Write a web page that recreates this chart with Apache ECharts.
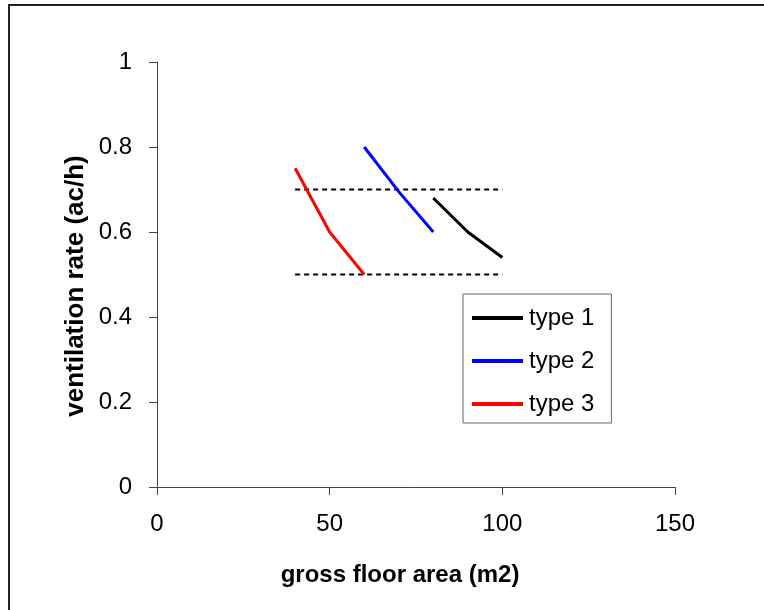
<!DOCTYPE html>
<html>
<head>
<meta charset="utf-8">
<script src="https://cdn.jsdelivr.net/npm/echarts@6/dist/echarts.min.js"></script>
<style>html,body{margin:0;padding:0;background:#fff}#c{width:764px;height:610px}</style>
</head>
<body>
<div id="c"></div>
<script>
var seriesNames = ['type 1', 'type 2', 'type 3'];
var type1X = [80, 90, 100];
var type1Y = [0.68, 0.60, 0.54];
var type2X = [60, 70, 80];
var type2Y = [0.80, 0.695, 0.60];
var type3X = [40, 50, 60];
var type3Y = [0.75, 0.60, 0.50];
var refLineX = [40, 100];
var refUpperY = [0.70, 0.70];
var refLowerY = [0.50, 0.50];
var xTicks = [0, 50, 100, 150];
var yTicks = [0, 0.2, 0.4, 0.6, 0.8, 1];
var xTitle = 'gross floor area (m2)';
var yTitle = 'ventilation rate (ac/h)';

function pairs(xs, ys) { return xs.map(function (x, i) { return [x, ys[i]]; }); }

var colors = ['#000000', '#0000ff', '#ff0000'];
var font = 'Arial, "Liberation Sans", sans-serif';
var chart = echarts.init(document.getElementById('c'), null, { renderer: 'canvas' });

var dataSets = [pairs(type1X, type1Y), pairs(type2X, type2Y), pairs(type3X, type3Y)];
var series = seriesNames.map(function (n, i) {
  return {
    name: n, type: 'line', data: dataSets[i], symbol: 'none', smooth: false,
    lineStyle: { color: colors[i], width: 3 }, itemStyle: { color: colors[i] }, z: 3
  };
});
[refUpperY, refLowerY].forEach(function (ys) {
  series.push({
    type: 'line', data: pairs(refLineX, ys), symbol: 'none', silent: true,
    lineStyle: { color: '#000', width: 2, type: [5, 4] }, z: 2
  });
});

chart.setOption({
  animation: false,
  backgroundColor: '#fff',
  grid: { left: 157, top: 62, right: 89, bottom: 123, containLabel: false },
  xAxis: {
    type: 'value', min: 0, max: 150, interval: 50,
    axisLine: { show: true, lineStyle: { color: '#444', width: 1 } },
    axisTick: { show: true, length: 8, lineStyle: { color: '#444' } },
    splitLine: { show: false },
    axisLabel: { color: '#000', fontSize: 24, fontFamily: font, margin: 25,
      customValues: xTicks, formatter: function (v) { return String(v); } }
  },
  yAxis: {
    type: 'value', min: 0, max: 1, interval: 0.2,
    axisLine: { show: true, lineStyle: { color: '#444', width: 1 } },
    axisTick: { show: true, length: 8, lineStyle: { color: '#444' } },
    splitLine: { show: false },
    axisLabel: { color: '#000', fontSize: 24, fontFamily: font, margin: 25,
      customValues: yTicks,
      formatter: function (v) { return String(Math.round(v * 10) / 10); } }
  },
  legend: {
    data: seriesNames, orient: 'vertical', left: 463, top: 294,
    icon: 'rect', itemWidth: 51, itemHeight: 4, itemGap: 19,
    padding: [12, 17, 7, 9],
    borderColor: '#666', borderWidth: 1, backgroundColor: '#fff',
    textStyle: { color: '#000', fontSize: 24, fontFamily: font, padding: [0, 0, 0, 1] }
  },
  graphic: [
    { type: 'rect', x: 0, y: 0, silent: true, z: -1,
      shape: { x: 9, y: 5, width: 800, height: 700 },
      style: { fill: 'none', stroke: '#222', lineWidth: 2 } },
    { type: 'text', x: 400, y: 575, silent: true,
      style: { text: xTitle, fill: '#000', font: 'bold 24px ' + font, align: 'center', verticalAlign: 'middle' } },
    { type: 'text', silent: true, rotation: Math.PI / 2,
      x: 76, y: 286,
      style: { text: yTitle, fill: '#000', font: 'bold 26px ' + font, align: 'center', verticalAlign: 'middle' } }
  ],
  series: series
});
</script>
</body>
</html>
